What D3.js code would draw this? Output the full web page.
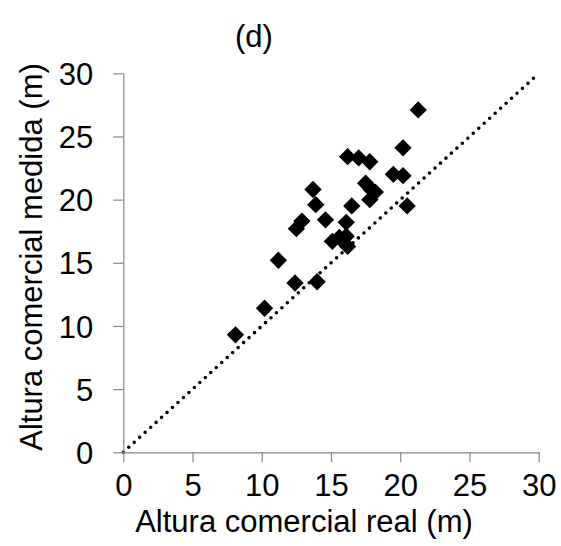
<!DOCTYPE html>
<html>
<head>
<meta charset="utf-8">
<script src="https://cdn.jsdelivr.net/npm/d3@7"></script>
<style>
  html, body { margin: 0; padding: 0; background: #fff; }
  svg { display: block; font-family: "Liberation Sans", Arial, sans-serif; }
</style>
</head>
<body>
<svg id="chart" width="561" height="546"></svg>
<script>
// Commercial height: real (x) vs measured (y), in metres
const alturaReal = [8.1, 10.2, 11.2, 12.4, 14.0, 12.5, 12.9, 13.7, 13.9, 14.6,
                    15.1, 15.6, 16.1, 16.2, 16.1, 16.5, 16.2, 17.0, 17.8, 17.5,
                    17.9, 18.2, 17.8, 19.5, 20.2, 20.5, 20.2, 21.3];
const alturaMedida = [9.3, 11.4, 15.2, 13.4, 13.5, 17.7, 18.3, 20.8, 19.6, 18.4,
                      16.7, 17.0, 17.1, 16.3, 18.2, 19.5, 23.4, 23.3, 23.0, 21.3,
                      20.8, 20.6, 20.0, 22.0, 21.9, 19.5, 24.1, 27.1];
const xTicks = [0, 5, 10, 15, 20, 25, 30];
const yTicks = [0, 5, 10, 15, 20, 25, 30];
const lineaUnoAUno = [0, 30];

const points = alturaReal.map((x, i) => ({ x, y: alturaMedida[i] }));

const svg = d3.select("#chart");
const axisColor = "#868686";
const labelSize = "31px";

const x = d3.scaleLinear().domain([0, 30]).range([123.3, 538.7]);
const y = d3.scaleLinear().domain([0, 30]).range([452.3, 73.3]);

// 1:1 reference line
svg.append("line")
  .attr("x1", x(lineaUnoAUno[0])).attr("y1", y(lineaUnoAUno[0]))
  .attr("x2", x(lineaUnoAUno[1]) - 3).attr("y2", y(lineaUnoAUno[1]) + 3)
  .attr("stroke", "#000")
  .attr("stroke-width", 3.6)
  .attr("stroke-linecap", "round")
  .attr("stroke-dasharray", "0 7.4");

// axes
const xAxis = svg.append("g")
  .attr("transform", `translate(0,${y(0)})`)
  .call(d3.axisBottom(x).tickValues(xTicks).tickSize(10).tickSizeOuter(0).tickPadding(12));
const yAxis = svg.append("g")
  .attr("transform", `translate(${x(0)},0)`)
  .call(d3.axisLeft(y).tickValues(yTicks).tickSize(10).tickSizeOuter(0).tickPadding(20));

[xAxis, yAxis].forEach(g => {
  g.select(".domain").attr("stroke", axisColor).attr("stroke-width", 1.2);
  g.selectAll(".tick line").attr("stroke", axisColor).attr("stroke-width", 1.2);
  g.selectAll(".tick text")
    .attr("fill", "#000")
    .style("font-size", labelSize)
    .style("font-family", "'Liberation Sans', Arial, sans-serif");
});
xAxis.selectAll(".tick text").attr("dy", "0.71em");
yAxis.selectAll(".tick text").attr("dy", "0.36em");

// data markers (squares rotated into diamonds)
const diamond = d3.symbol().type(d3.symbolSquare).size(150);
svg.append("g")
  .selectAll("path")
  .data(points)
  .join("path")
  .attr("d", diamond)
  .attr("transform", d => `translate(${x(d.x)},${y(d.y)}) rotate(45)`)
  .attr("fill", "#000");

// titles
svg.append("text")
  .attr("x", 254).attr("y", 47)
  .attr("text-anchor", "middle")
  .style("font-size", "31px")
  .text("(d)");

svg.append("text")
  .attr("x", 304).attr("y", 532)
  .attr("text-anchor", "middle")
  .style("font-size", labelSize)
  .text("Altura comercial real (m)");

svg.append("text")
  .attr("transform", "translate(42,257) rotate(-90)")
  .attr("text-anchor", "middle")
  .style("font-size", labelSize)
  .text("Altura comercial medida (m)");
</script>
</body>
</html>
